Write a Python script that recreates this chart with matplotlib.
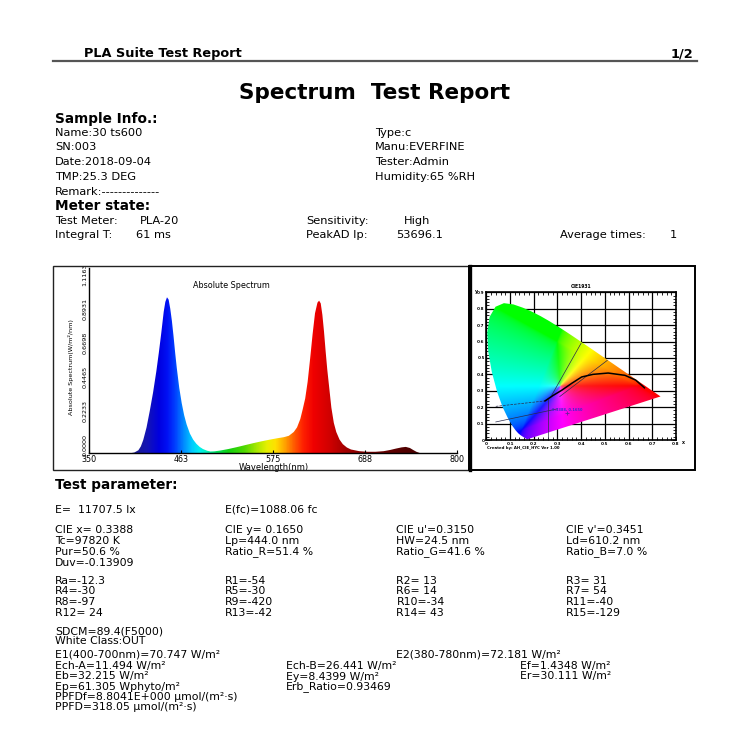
import matplotlib.pyplot as plt
import numpy as np
from matplotlib.colors import LinearSegmentedColormap, rgb_to_hsv, hsv_to_rgb
from matplotlib.patches import Rectangle, Polygon
from matplotlib.lines import Line2D
from matplotlib.ticker import MultipleLocator
from matplotlib.transforms import ScaledTranslation

plt.rcParams['font.family'] = ['DejaVu Sans']

# ---- absolute spectrum ----
wavelength = [400, 405, 410, 413, 416, 420, 424, 428, 432, 435, 438, 441, 443, 445, 447, 449,
              451, 453, 455, 457, 460, 463, 466, 469, 473, 477, 481, 485, 489, 494, 498,
              503, 510, 520, 530, 540, 550, 560, 570, 580, 588, 594, 600, 604, 608, 611,
              614, 617, 620, 623, 626, 629, 631, 633, 635, 637, 639, 641, 643, 646, 649,
              652, 656, 660, 665, 670, 680, 690, 700, 710, 718, 725, 732, 737, 742, 746,
              750, 755]
intensity = [0.0, 0.005, 0.02, 0.045, 0.088, 0.17, 0.28, 0.40, 0.54, 0.66, 0.79, 0.93, 0.995, 1.025, 1.01, 0.95,
             0.87, 0.77, 0.66, 0.56, 0.43, 0.33, 0.25, 0.19, 0.13, 0.09, 0.062, 0.042, 0.028, 0.017, 0.012,
             0.013, 0.018, 0.028, 0.040, 0.053, 0.066, 0.078, 0.089, 0.099, 0.106, 0.115, 0.14, 0.17, 0.225, 0.29,
             0.36, 0.47, 0.62, 0.78, 0.92, 0.99, 1.003, 0.985, 0.91, 0.80, 0.67, 0.55, 0.45, 0.30, 0.20,
             0.14, 0.09, 0.06, 0.038, 0.025, 0.014, 0.010, 0.010, 0.014, 0.022, 0.031, 0.039, 0.042, 0.035, 0.022,
             0.010, 0.0]
spec_xticks = [350, 462.5, 575, 687.5, 800]
spec_xlabels = ['350', '463', '575', '688', '800']
spec_yticks = [0.0, 0.2233, 0.4465, 0.6698, 0.8931, 1.1163]
spec_ylabels = ['0.0000', '0.2233', '0.4465', '0.6698', '0.8931', '1.1163']

# ---- CIE 1931 chart ----
locus_x = [0.1741, 0.1733, 0.1714, 0.1689, 0.1644, 0.1566, 0.1440, 0.1355, 0.1241, 0.1096, 0.0913,
           0.0687, 0.0454, 0.0235, 0.0082, 0.0039, 0.0139, 0.0389, 0.0743, 0.1142, 0.1547, 0.1929,
           0.2296, 0.2658, 0.3016, 0.3373, 0.3731, 0.4441, 0.5125, 0.5752, 0.6270, 0.6658, 0.6915,
           0.7079, 0.7190, 0.7260, 0.7300, 0.7334, 0.7347]
locus_y = [0.0050, 0.0048, 0.0051, 0.0069, 0.0109, 0.0177, 0.0297, 0.0399, 0.0578, 0.0868, 0.1327,
           0.2007, 0.2950, 0.4127, 0.5384, 0.6548, 0.7502, 0.8120, 0.8338, 0.8262, 0.8059, 0.7816,
           0.7543, 0.7243, 0.6923, 0.6589, 0.6245, 0.5547, 0.4866, 0.4242, 0.3725, 0.3340, 0.3083,
           0.2920, 0.2809, 0.2740, 0.2700, 0.2666, 0.2653]
planck_x = [0.2475, 0.28, 0.318, 0.36, 0.402, 0.45, 0.514, 0.585, 0.63, 0.667]
planck_y = [0.238, 0.27, 0.303, 0.345, 0.384, 0.40, 0.408, 0.394, 0.365, 0.318]
guide_lines = [
    ([0.04, 0.247], [0.205, 0.238], '--'),
    ([0.04, 0.30], [0.11, 0.19], '-'),
    ([0.261, 0.261], [0.25, 0.0], '-'),
    ([0.276, 0.40], [0.273, 0.59], '-'),
    ([0.31, 0.51], [0.265, 0.485], '-'),
]
sample_x, sample_y = 0.3388, 0.1650
cie_ticks_x = [0, 0.1, 0.2, 0.3, 0.4, 0.5, 0.6, 0.7, 0.8]
cie_labels_x = ['0', '0.1', '0.2', '0.3', '0.4', '0.5', '0.6', '0.7', '0.8']
cie_ticks_y = [0, 0.1, 0.2, 0.3, 0.4, 0.5, 0.6, 0.7, 0.8, 0.9]
cie_labels_y = ['0', '0.1', '0.2', '0.3', '0.4', '0.5', '0.6', '0.7', '0.8', '0.9']

W = 750
fig = plt.figure(figsize=(7.5, 7.5), dpi=100)
fig.patch.set_facecolor('white')


def fx(x):
    return x / W


def fy(y):
    return 1 - y / W


def put(x, y, s, size=8.2, bold=False, ha='left', **kw):
    fig.text(fx(x), fy(y), s, fontsize=size, fontweight='bold' if bold else 'normal',
             ha=ha, va='center', **kw)


# header
put(83.5, 54, 'PLA Suite Test Report', 9.3, True)
put(693, 54, '1/2', 9.3, True, ha='right')
fig.add_artist(Line2D([fx(53), fx(697)], [fy(61), fy(61)], color='#555555', lw=1.6))
put(375, 93, 'Spectrum  Test Report', 15.5, True, ha='center')

# sample info
put(55, 119, 'Sample Info.:', 9.8, True)
for y, left, right in [(133, 'Name:30 ts600', 'Type:c'),
                       (147, 'SN:003', 'Manu:EVERFINE'),
                       (162, 'Date:2018-09-04', 'Tester:Admin'),
                       (177, 'TMP:25.3 DEG', 'Humidity:65 %RH'),
                       (192, 'Remark:--------------', None)]:
    put(55, y, left)
    if right:
        put(375, y, right)

put(55, 206, 'Meter state:', 9.8, True)
put(55, 221, 'Test Meter:')
put(140, 221, 'PLA-20')
put(55, 235, 'Integral T:')
put(136.5, 235, '61 ms')
put(306, 221, 'Sensitivity:')
put(404, 221, 'High')
put(306, 235, 'PeakAD Ip:')
put(396.5, 235, '53696.1')
put(559.5, 235, 'Average times:')
put(669.5, 235, '1')

# chart frames
fig.add_artist(Rectangle((fx(53), fy(470)), (469 - 53) / W, (470 - 266) / W,
                         transform=fig.transFigure, fill=False, ec='#222222', lw=1.0))
fig.add_artist(Rectangle((fx(469), fy(470)), (695 - 469) / W, (470 - 266) / W,
                         transform=fig.transFigure, fill=False, ec='black', lw=1.4))
fig.add_artist(Line2D([fx(469.5), fx(469.5)], [fy(266), fy(470)], color='black', lw=2.4))

# ---- spectrum plot ----
ax = fig.add_axes([fx(89.3), fy(453.3), (457.3 - 89.3) / W, (453.3 - 268) / W])
ytop = (453.3 - 268) / 152.2
ax.set_xlim(350, 800)
ax.set_ylim(0, ytop)

stops = [(350, '#000040'), (400, '#1c1c80'), (420, '#1414b4'), (435, '#0000e0'), (445, '#0010f4'),
         (455, '#0040ff'), (465, '#0088ff'), (475, '#00c8ff'), (485, '#00f0f0'), (495, '#00f0b0'),
         (505, '#00e060'), (520, '#10d010'), (540, '#50d800'), (555, '#a8e800'), (568, '#e8f000'),
         (578, '#ffe000'), (590, '#ffa000'), (600, '#ff6000'), (612, '#ff2000'), (625, '#f00000'),
         (645, '#d00000'), (665, '#a00000'), (700, '#700000'), (740, '#500000'), (800, '#400000')]
spec_cmap = LinearSegmentedColormap.from_list('spec', [((w - 350) / 450, c) for w, c in stops])

wl = np.array(wavelength)
val = np.array(intensity)
outline = Polygon(np.column_stack([np.r_[wl[0], wl, wl[-1]], np.r_[0, val, 0]]),
                  closed=True, fc='none', ec='none')
ax.add_patch(outline)
grad = np.linspace(350, 800, 900)[None, :]
im = ax.imshow(grad, extent=[350, 800, 0, ytop], origin='lower', aspect='auto',
               cmap=spec_cmap, vmin=350, vmax=800, interpolation='bilinear')
im.set_clip_path(outline)

for s in ['top', 'right']:
    ax.spines[s].set_visible(False)
ax.spines['left'].set_linewidth(1.0)
ax.spines['bottom'].set_linewidth(1.0)
ax.set_xticks(spec_xticks, spec_xlabels)
ax.set_yticks(spec_yticks, spec_ylabels, rotation=90, va='center')
ax.tick_params(axis='x', direction='in', length=2, width=0.8, labelsize=5.8, pad=1)
ax.tick_params(axis='y', length=0, labelsize=4.6, pad=1.5)
for lbl in ax.get_yticklabels():
    lbl.set_transform(lbl.get_transform() + ScaledTranslation(0, 8.5 / 100, fig.dpi_scale_trans))
ax.set_xlabel('Wavelength(nm)', fontsize=6)
ax.xaxis.set_label_coords(0.5, -(467.5 - 453.3) / 185.3)
ax.xaxis.label.set_va('center')
ax.set_ylabel('Absolute Spectrum(W/m²/nm)', fontsize=4.6)
ax.yaxis.set_label_coords((73.5 - 89.3) / 368, (453.3 - 367.5) / 185.3)
ax.text((231.7 - 89.3) / 368, (453.3 - 285) / 185.3, 'Absolute Spectrum', transform=ax.transAxes,
        fontsize=5.8, ha='center', va='center')

# ---- CIE 1931 plot ----
cx = fig.add_axes([fx(486.3), fy(440), (676 - 486.3) / W, (440 - 292.3) / W])
cx.set_xlim(0, 0.8)
cx.set_ylim(0, 0.9)

gx, gy = np.meshgrid(np.linspace(0.0005, 0.8, 480), np.linspace(0.0005, 0.9, 540))
XYZ = np.stack([gx / gy, np.ones_like(gx), (1 - gx - gy) / gy])
M = np.array([[3.2406, -1.5372, -0.4986], [-0.9689, 1.8758, 0.0415], [0.0557, -0.2040, 1.0570]])
rgb = np.clip(np.tensordot(M, XYZ, axes=1), 0, None)
rgb = rgb / np.maximum(rgb.max(axis=0, keepdims=True), 1e-9)
rgb = np.where(rgb <= 0.0031308, 12.92 * rgb, 1.055 * rgb ** (1 / 2.4) - 0.055)
hsv = rgb_to_hsv(np.clip(np.moveaxis(rgb, 0, -1), 0, 1))
hsv[..., 1] = hsv[..., 1] ** 0.12
hsv[..., 2] = 1.0
rgb = hsv_to_rgb(hsv)
horseshoe = Polygon(np.column_stack([locus_x, locus_y]), closed=True, fc='none', ec='none',
                    transform=cx.transData)
cim = cx.imshow(rgb, extent=[0, 0.8, 0, 0.9], origin='lower', aspect='auto', zorder=1,
                interpolation='bilinear')
cim.set_clip_path(horseshoe)

cx.set_axisbelow(True)
cx.grid(True, which='major', color='black', lw=0.9)
cx.set_xticks(cie_ticks_x, cie_labels_x)
cx.set_yticks(cie_ticks_y, cie_labels_y)
cx.xaxis.set_minor_locator(MultipleLocator(0.02))
cx.yaxis.set_minor_locator(MultipleLocator(0.02))
cx.tick_params(which='both', direction='in', top=True, right=True, width=0.6,
               labelsize=3, pad=1.2)
cx.tick_params(which='major', length=3)
cx.tick_params(which='minor', length=2)
for lbl in cx.get_xticklabels() + cx.get_yticklabels():
    lbl.set_fontweight('bold')
for s in cx.spines.values():
    s.set_linewidth(1.2)

for xs, ys, ls in guide_lines:
    cx.plot(xs, ys, color='#2a2a4a', lw=0.5, ls=ls, zorder=2)
cx.plot(planck_x, planck_y, color='black', lw=1.1, zorder=3)
cx.plot(sample_x, sample_y, marker='+', color='#6a1fa0', ms=3, mew=0.6, zorder=4)
cx.text(0.342, 0.183, '%.4f, %.4f' % (sample_x, sample_y), fontsize=2.6, color='#3a2ccc',
        fontweight='bold', ha='center', va='center', zorder=4)

put(581, 286, 'CIE1931', 3.3, True, ha='center')
put(474.7, 291.7, 'y', 3.3, True)
put(682, 442.7, 'x', 3.3, True)
put(487.3, 448.3, 'Created by: AH_CIE_HYC Ver 1.00', 2.8, True)

# ---- test parameters ----
put(55, 485, 'Test parameter:', 9.8, True)
fs = 7.8
put(55, 510, 'E=  11707.5 lx', fs)
put(225, 510, 'E(fc)=1088.06 fc', fs)
cols = [55, 225, 396.5, 566]
rows = [
    (530, ['CIE x= 0.3388', 'CIE y= 0.1650', "CIE u'=0.3150", "CIE v'=0.3451"]),
    (541, ['Tc=97820 K', 'Lp=444.0 nm', 'HW=24.5 nm', 'Ld=610.2 nm']),
    (552, ['Pur=50.6 %', 'Ratio_R=51.4 %', 'Ratio_G=41.6 %', 'Ratio_B=7.0 %']),
    (563, ['Duv=-0.13909']),
    (581, ['Ra=-12.3', 'R1=-54', 'R2= 13', 'R3= 31']),
    (591.5, ['R4=-30', 'R5=-30', 'R6= 14', 'R7= 54']),
    (602, ['R8=-97', 'R9=-420', 'R10=-34', 'R11=-40']),
    (612.5, ['R12= 24', 'R13=-42', 'R14= 43', 'R15=-129']),
]
for y, items in rows:
    for x, s in zip(cols, items):
        put(x, y, s, fs)

put(55, 631.5, 'SDCM=89.4(F5000)', fs)
put(55, 641.5, 'White Class:OUT', fs)
put(55, 654.5, 'E1(400-700nm)=70.747 W/m²', fs)
put(396.5, 654.5, 'E2(380-780nm)=72.181 W/m²', fs)
put(55, 665.5, 'Ech-A=11.494 W/m²', fs)
put(285.5, 665.5, 'Ech-B=26.441 W/m²', fs)
put(520, 665.5, 'Ef=1.4348 W/m²', fs)
put(55, 676.5, 'Eb=32.215 W/m²', fs)
put(285.5, 676.5, 'Ey=8.4399 W/m²', fs)
put(520, 676.5, 'Er=30.111 W/m²', fs)
put(55, 686.5, 'Ep=61.305 Wphyto/m²', fs)
put(285.5, 686.5, 'Erb_Ratio=0.93469', fs)
put(55, 696.5, 'PPFDf=8.8041E+000 µmol/(m²·s)', fs)
put(55, 707, 'PPFD=318.05 µmol/(m²·s)', fs)

fig.savefig('out.png', dpi=100, facecolor='white')
